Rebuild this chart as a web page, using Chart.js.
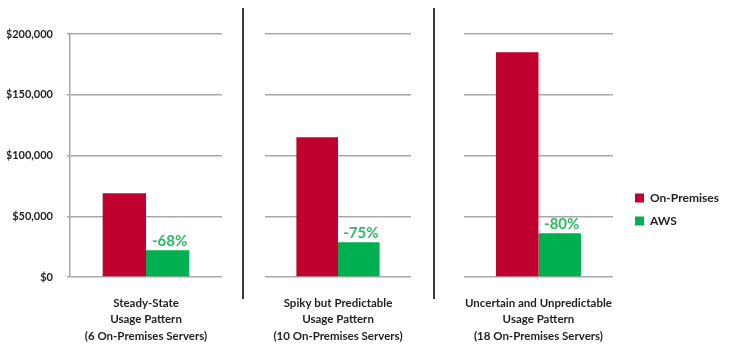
<!DOCTYPE html>
<html><head><meta charset="utf-8">
<script src="https://cdn.jsdelivr.net/npm/chart.js@4"></script>
<style>
html,body{margin:0;padding:0;background:#fff;}
#wrap{position:relative;width:729px;height:353px;overflow:hidden;background:#fff;}
canvas{position:absolute;}
.sep{position:absolute;top:8px;height:291px;width:2px;background:#3a3a3a;}
</style></head><body>
<div id="wrap">
<canvas id="c1" width="243" height="353" style="left:0;top:0;width:243px;height:353px"></canvas>
<canvas id="c2" width="191" height="353" style="left:243px;top:0;width:191px;height:353px"></canvas>
<canvas id="c3" width="295" height="353" style="left:434px;top:0;width:295px;height:353px"></canvas>
<canvas id="lg" width="105" height="140" style="left:624px;top:181px;width:105px;height:140px"></canvas>
<div class="sep" style="left:242px"></div>
<div class="sep" style="left:433px"></div>
</div>
<script>
const categories = [
  ['Steady-State', 'Usage Pattern', '(6 On-Premises Servers)'],
  ['Spiky but Predictable', 'Usage Pattern', '(10 On-Premises Servers)'],
  ['Uncertain and Unpredictable', 'Usage Pattern', '(18 On-Premises Servers)']
];
const seriesNames = ['On-Premises', 'AWS'];
const onPremises = [69000, 115000, 185000];
const aws = [22000, 28500, 36000];
const savings = ['-68%', '-75%', '-80%'];
const yTicks = [0, 50000, 100000, 150000, 200000];

const RED = '#C0002F';
const GREEN = '#00B050';
const GRID = '#A8A8A8';
const TEXT = '#1F1F1F';
const FONT = 'Lato';

const savingsLabel = {
  id: 'savingsLabel',
  afterDatasetsDraw(chart, args, opts) {
    if (!opts || !opts.text) return;
    const bar = chart.getDatasetMeta(1).data[0];
    if (!bar) return;
    const ctx = chart.ctx;
    ctx.save();
    ctx.font = 'bold 15px ' + FONT;
    ctx.fillStyle = '#2DB863';
    ctx.textAlign = 'center';
    ctx.textBaseline = 'alphabetic';
    ctx.fillText(opts.text, bar.x + 2, bar.y - 4);
    ctx.restore();
  }
};

function makeChart(i, id, pad, first) {
  const scales = {
    x: {
      grid: { display: false, drawTicks: false },
      border: { display: false },
      ticks: { color: TEXT, padding: 18, font: { family: FONT, weight: 'bold', size: 11.5, lineHeight: 1.43 } },
      afterFit: s => { s.height = 76; }
    },
    y: {
      min: 0, max: 200000,
      afterBuildTicks: s => { s.ticks = yTicks.map(v => ({ value: v })); },
      grid: { color: GRID, lineWidth: 1.5, drawTicks: first, tickLength: 3 },
      border: first ? { display: true, color: GRID, width: 1.5 } : { display: false },
      ticks: first ? {
        color: TEXT, padding: 14,
        font: { family: FONT, weight: 'bold', size: 11 },
        callback: v => '$' + Number(v).toLocaleString('en-US')
      } : { display: false },
      afterFit: s => { s.width = first ? 63 : 0; }
    }
  };
  return new Chart(document.getElementById(id), {
    type: 'bar',
    data: {
      labels: [categories[i]],
      datasets: [
        { label: seriesNames[0], data: [onPremises[i]], backgroundColor: RED, borderWidth: 0,
          categoryPercentage: 0.57, barPercentage: 1 },
        { label: seriesNames[1], data: [aws[i]], backgroundColor: GREEN, borderWidth: 0,
          categoryPercentage: 0.57, barPercentage: 1 }
      ]
    },
    options: {
      responsive: false,
      devicePixelRatio: 1,
      animation: false,
      events: [],
      layout: { padding: pad },
      scales,
      plugins: {
        tooltip: { enabled: false },
        savingsLabel: { text: savings[i] },
        legend: { display: false }
      }
    },
    plugins: [savingsLabel]
  });
}

makeChart(0, 'c1', { left: 7, right: 21, top: 34, bottom: 0 }, true);
makeChart(1, 'c2', { left: 22, right: 23, top: 34, bottom: 0 }, false);
makeChart(2, 'c3', { left: 26, right: 116, top: 34, bottom: 0 }, false);

// Legend (series names and colours), drawn by Chart.js's legend plugin
new Chart(document.getElementById('lg'), {
  type: 'bar',
  data: {
    labels: [],
    datasets: [
      { label: seriesNames[0], data: [], backgroundColor: RED, borderWidth: 0 },
      { label: seriesNames[1], data: [], backgroundColor: GREEN, borderWidth: 0 }
    ]
  },
  options: {
    responsive: false,
    devicePixelRatio: 1,
    animation: false,
    events: [],
    layout: { padding: 0 },
    scales: { x: { display: false }, y: { display: false } },
    plugins: {
      tooltip: { enabled: false },
      legend: {
        display: true,
        position: 'top',
        align: 'start',
        labels: {
          boxWidth: 9, boxHeight: 9, padding: 11, color: TEXT,
          font: { family: FONT, weight: 'bold', size: 12 }
        }
      }
    }
  }
});
</script>
</body></html>
